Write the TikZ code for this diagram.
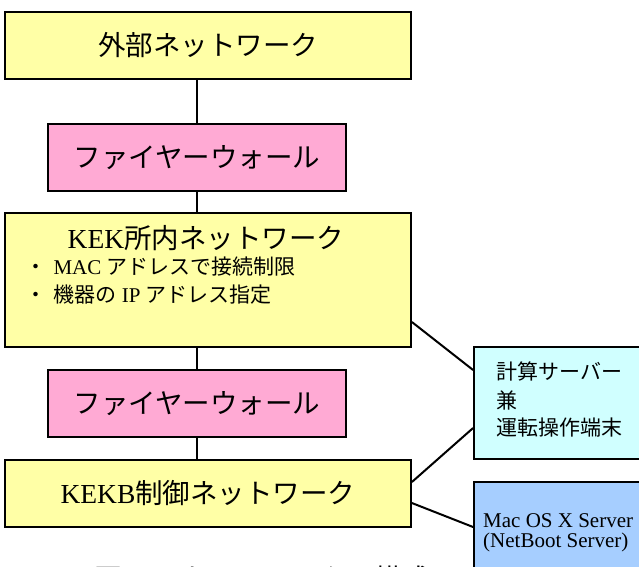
\documentclass[tikz,border=0pt]{standalone}
\usepackage{fontspec}
\setmainfont{Liberation Serif}
\newfontfamily\jp{Noto Sans CJK JP}
\usetikzlibrary{calc}
\definecolor{netyellow}{RGB}{255,255,166}
\definecolor{fwpink}{RGB}{255,170,212}
\definecolor{srvcyan}{RGB}{208,255,255}
\definecolor{macblue}{RGB}{166,206,255}
\tikzset{
  bigfont/.style={font=\fontsize{27.5}{30}\selectfont},
  netbox/.style={draw=black, line width=1.8pt, fill=netyellow, minimum width=406pt, inner sep=0pt, bigfont},
  fwbox/.style={draw=black, line width=1.8pt, fill=fwpink, minimum width=298pt, minimum height=67pt, inner sep=0pt, bigfont},
  sidebox/.style={draw=black, line width=1.8pt, minimum width=186pt, inner sep=0pt},
  link/.style={line width=2pt},
  smalltxt/.style={anchor=west, inner sep=0pt, font=\fontsize{21}{23}\selectfont},
}
\begin{document}
\begin{tikzpicture}[x=1pt,y=-1pt]
\useasboundingbox (0,0) rectangle (639,566);
\clip (0,0) rectangle (639,566);
% main column
\node[netbox, minimum height=67pt] (ext) at (208,45.5) {\jp 外部ネットワーク};
\node[fwbox] (fw1) at (197,157.5) {\jp ファイヤーウォール};
\node[netbox, minimum height=134pt] (kek) at (208,280) {};
\node[inner sep=0pt, bigfont] (kektitle) at (206,238) {KEK{\jp 所内ネットワーク}};
\node[smalltxt] (b1) at (25,267) {{\jp ・}\hspace{0.35em}MAC {\jp アドレスで接続制限}};
\node[smalltxt] (b2) at (25,295) {{\jp ・}\hspace{0.35em}{\jp 機器の} IP {\jp アドレス指定}};
\node[fwbox] (fw2) at (197,403.5) {\jp ファイヤーウォール};
\node[netbox, minimum height=67pt] (kekb) at (208,493.5) {KEKB{\jp 制御ネットワーク}};
% side boxes
\node[sidebox, fill=srvcyan, minimum height=112pt] (calc) at (567,403) {};
\node[smalltxt] (c1) at (496,371) {\jp 計算サーバー};
\node[smalltxt] (c2) at (496,400) {\jp 兼};
\node[smalltxt] (c3) at (496,428) {\jp 運転操作端末};
\node[sidebox, fill=macblue, minimum height=118pt] (mac) at (567,541) {};
\node[smalltxt] (m1) at (483,521) {Mac OS X Server};
\node[smalltxt] (m2) at (483,542) {(NetBoot Server)};
% caption (cut off at the bottom edge, as in the reference)
\node[inner sep=0pt, anchor=base, font=\fontsize{28}{30}\selectfont] (cap) at (262,589) {\jp 図　　ネットワークの構成};
% connectors
\draw[link] (fw1.north) -- (fw1.north |- ext.south);
\draw[link] (fw1.south) -- (fw1.south |- kek.north);
\draw[link] (fw2.north) -- (fw2.north |- kek.south);
\draw[link] (fw2.south) -- (fw2.south |- kekb.north);
\draw[link] ($(kek.east)+(0,42)$) -- ($(calc.west)+(0,-33)$);
\draw[link] ($(kekb.east)+(0,-11.5)$) -- ($(calc.west)+(0,25)$);
\draw[link] ($(kekb.east)+(0,9.5)$) -- ($(mac.west)+(0,-14)$);
\end{tikzpicture}
\end{document}
